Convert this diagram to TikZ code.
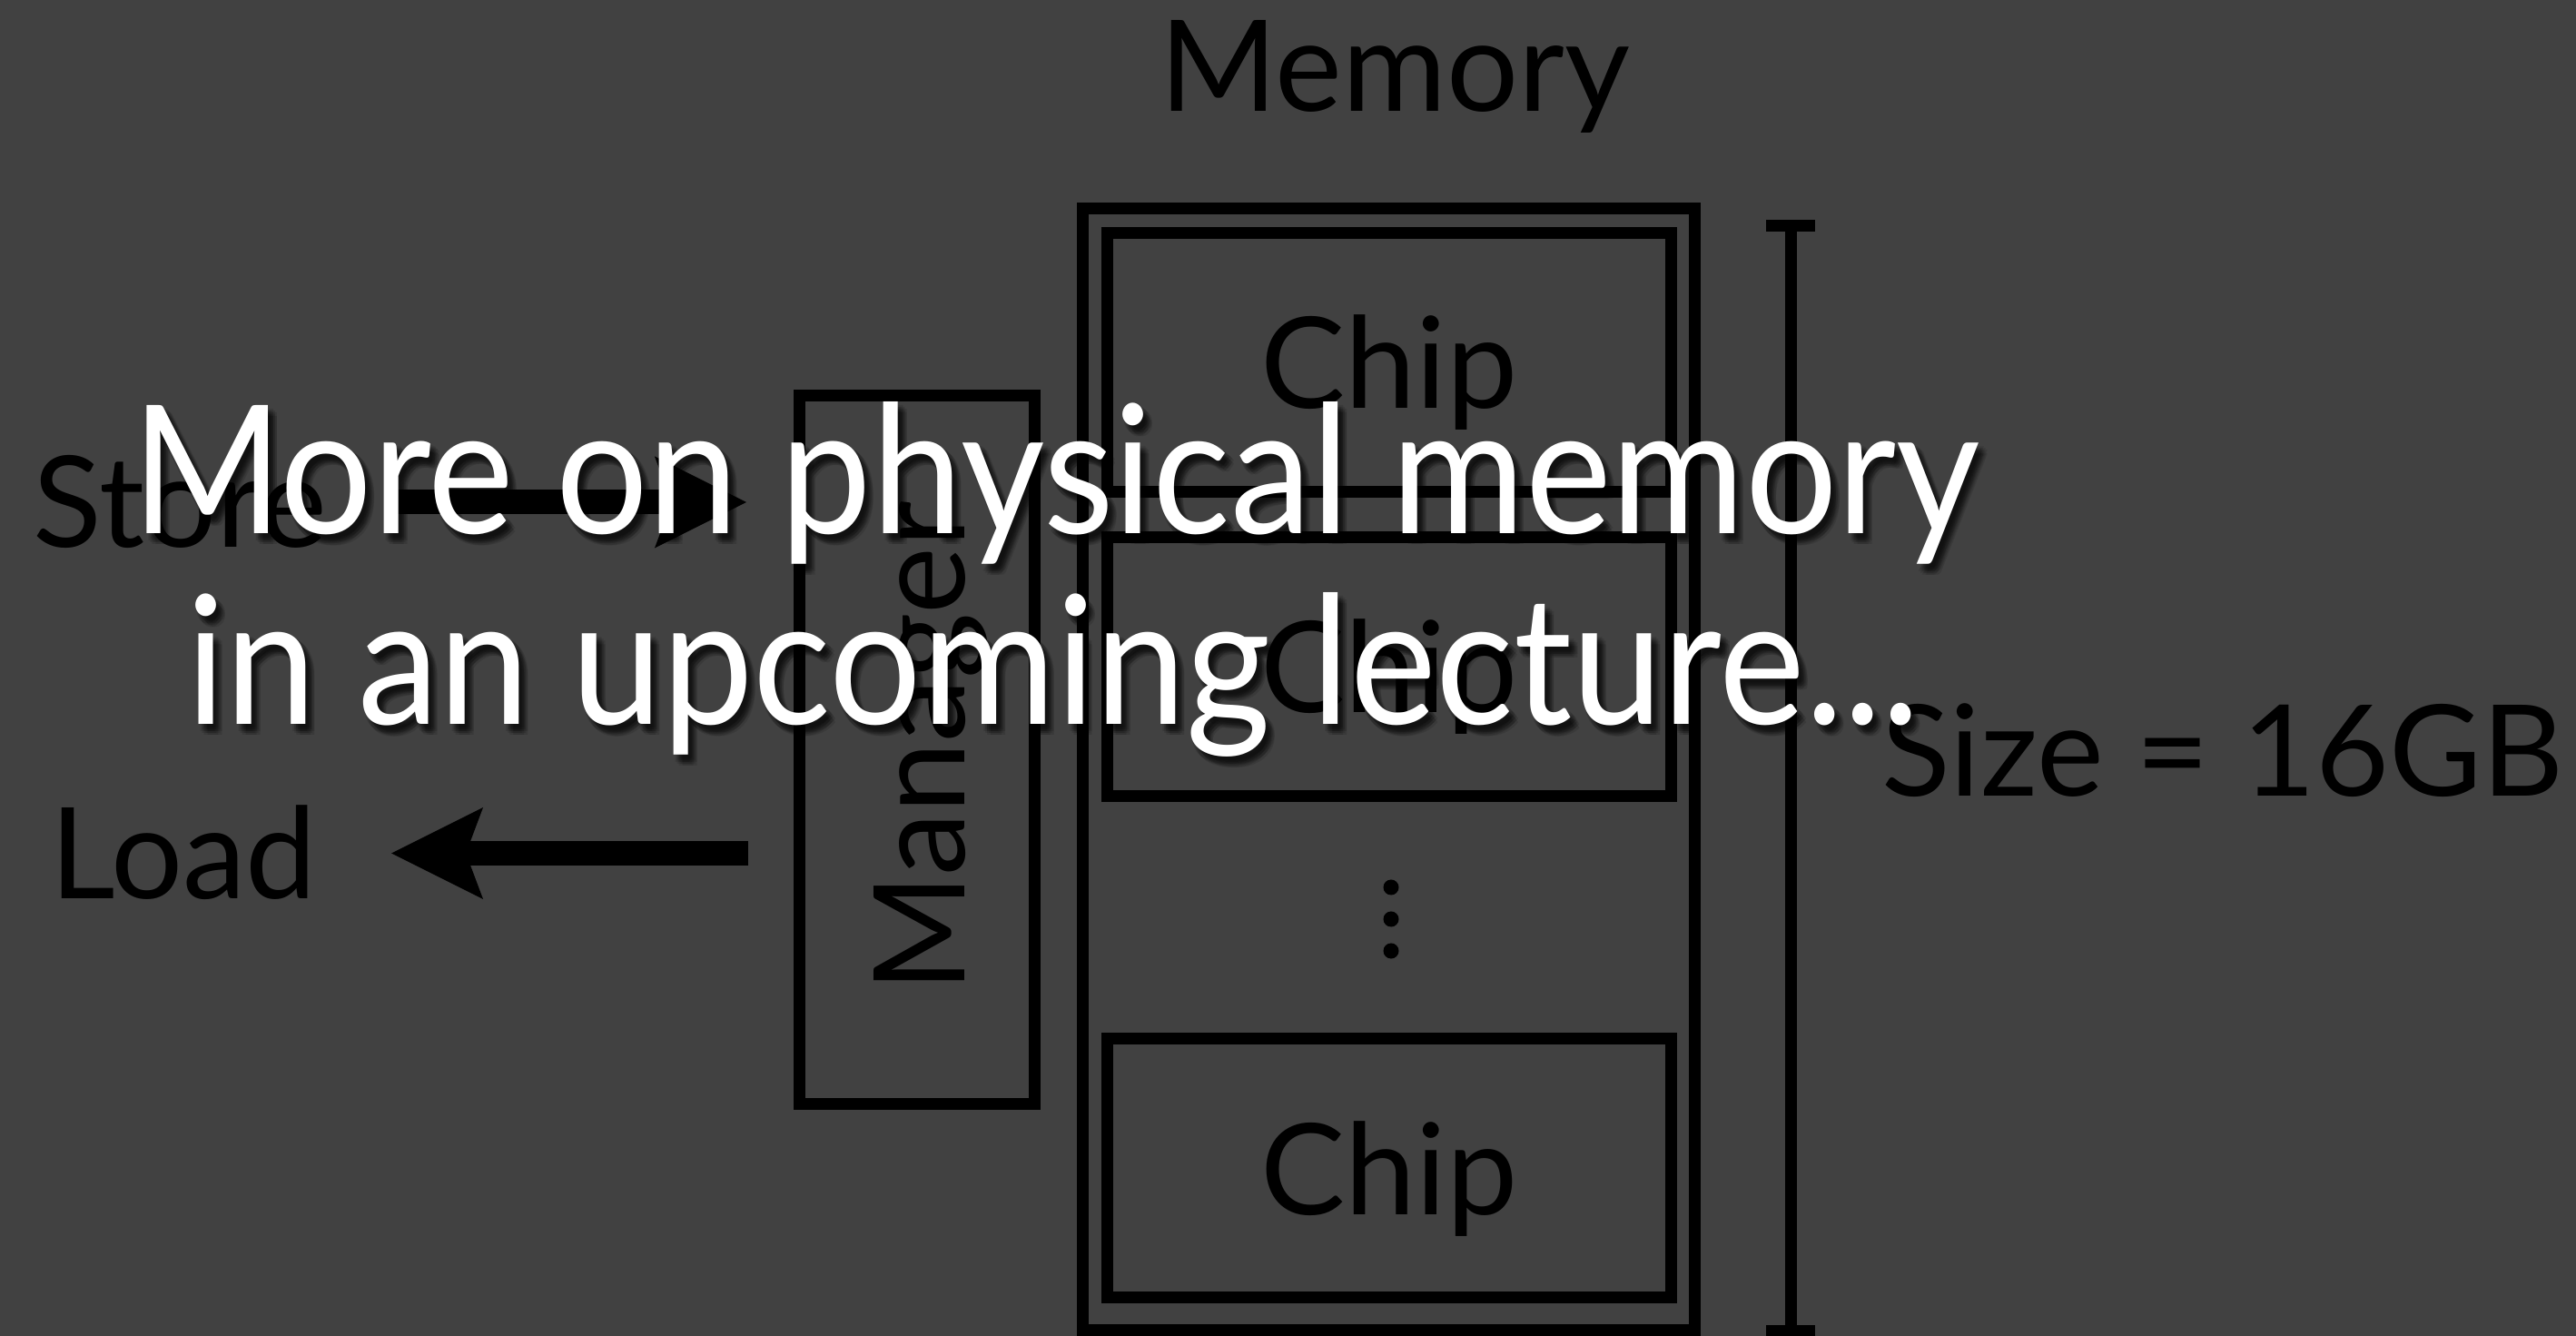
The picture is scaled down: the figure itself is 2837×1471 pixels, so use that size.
\documentclass[tikz,border=0pt]{standalone}
\usepackage{fontspec}
\setmainfont{Lato}
\newfontfamily\ovfont[FakeStretch=0.91]{Lato}
\usetikzlibrary{arrows.meta}
\definecolor{bg}{RGB}{65,65,65}
\begin{document}
\begin{tikzpicture}[x=0.01cm,y=-0.01cm,
  box/.style={draw=black, line width=0.13cm, inner sep=0pt, outer sep=0pt},
  lbl/.style={font=\fontsize{39.7}{47}\selectfont, text=black, inner sep=0pt},
  big/.style={font=\ovfont\fontsize{56}{67}\selectfont, inner sep=0pt},
  bigarrow/.style={draw=black, line width=0.27cm, -{Stealth[length=28.74pt, width=28.74pt, inset=5.4pt, line width=0pt]}},
  bar/.style={draw=black, line width=0.13cm}]
\fill[bg] (0,0) rectangle (2837,1471);
\useasboundingbox (0,0) rectangle (2837,1471);

% Memory title
\node[lbl, anchor=base] (memt) at (1536,123) {Memory};

% memory module and chips
\node[box, minimum width=6.74cm, minimum height=12.345cm] (mem) at (1529.5,847.25) {};
\node[box, minimum width=6.21cm, minimum height=2.85cm] (chip1) at (1530,399) {};
\node[box, minimum width=6.21cm, minimum height=2.85cm] (chip2) at (1530,734) {};
\node[box, minimum width=6.21cm, minimum height=2.85cm] (chip3) at (1530,1286) {};
\node[lbl, anchor=base] (c1t) at (1530,450) {Chip};
\node[lbl, anchor=base] (c2t) at (1530,785) {Chip};
\node[lbl, anchor=base] (c3t) at (1530,1337) {Chip};
\fill[black] (1532,977) circle[radius=0.085cm];
\fill[black] (1532,1012) circle[radius=0.085cm];
\fill[black] (1532,1047) circle[radius=0.085cm];

% size bar
\coordinate (st) at (1972,249);
\coordinate (sbt) at (1972,1465);
\draw[bar] (st) -- (sbt);
\draw[bar] ([xshift=-0.27cm]st) -- ([xshift=0.27cm]st);
\draw[bar] ([xshift=-0.27cm]sbt) -- ([xshift=0.27cm]sbt);
\node[lbl, anchor=base west] (size) at (2072,877) {Size = 16GB};

% manager
\node[box, minimum width=2.59cm, minimum height=7.79cm] (mgr) at (1010,825.5) {};
\node[lbl, rotate=90, anchor=base] (mgrt) at (1062,822) {Manager};

% store / load
\node[lbl, anchor=base west] (store) at (36,603) {Store};
\node[lbl, anchor=base west] (load) at (55,990) {Load};
\coordinate (sa) at (431,553);
\coordinate (sz) at (822,553);
\draw[bigarrow] (sa) -- (sz);
\coordinate (la) at (824,939.5);
\coordinate (lz) at (431,939.5);
\draw[bigarrow] (la) -- (lz);

% overlay text with shadow
\foreach \dx/\dy [count=\i] in {4/6,8/6,4/10,8/10,6/8,6/12,10/8,2/8,6/4,10/12}{
  \node[big, text=black, opacity=0.11, anchor=base] (sha\i) at (1163+\dx,588+\dy) {More on physical memory};
  \node[big, text=black, opacity=0.11, anchor=base] (shb\i) at (1160+\dx,798+\dy) {in an upcoming lecture...};
}
\node[big, text=white, anchor=base] (ov1) at (1163,588) {More on physical memory};
\node[big, text=white, anchor=base] (ov2) at (1160,798) {in an upcoming lecture...};
\end{tikzpicture}
\end{document}
